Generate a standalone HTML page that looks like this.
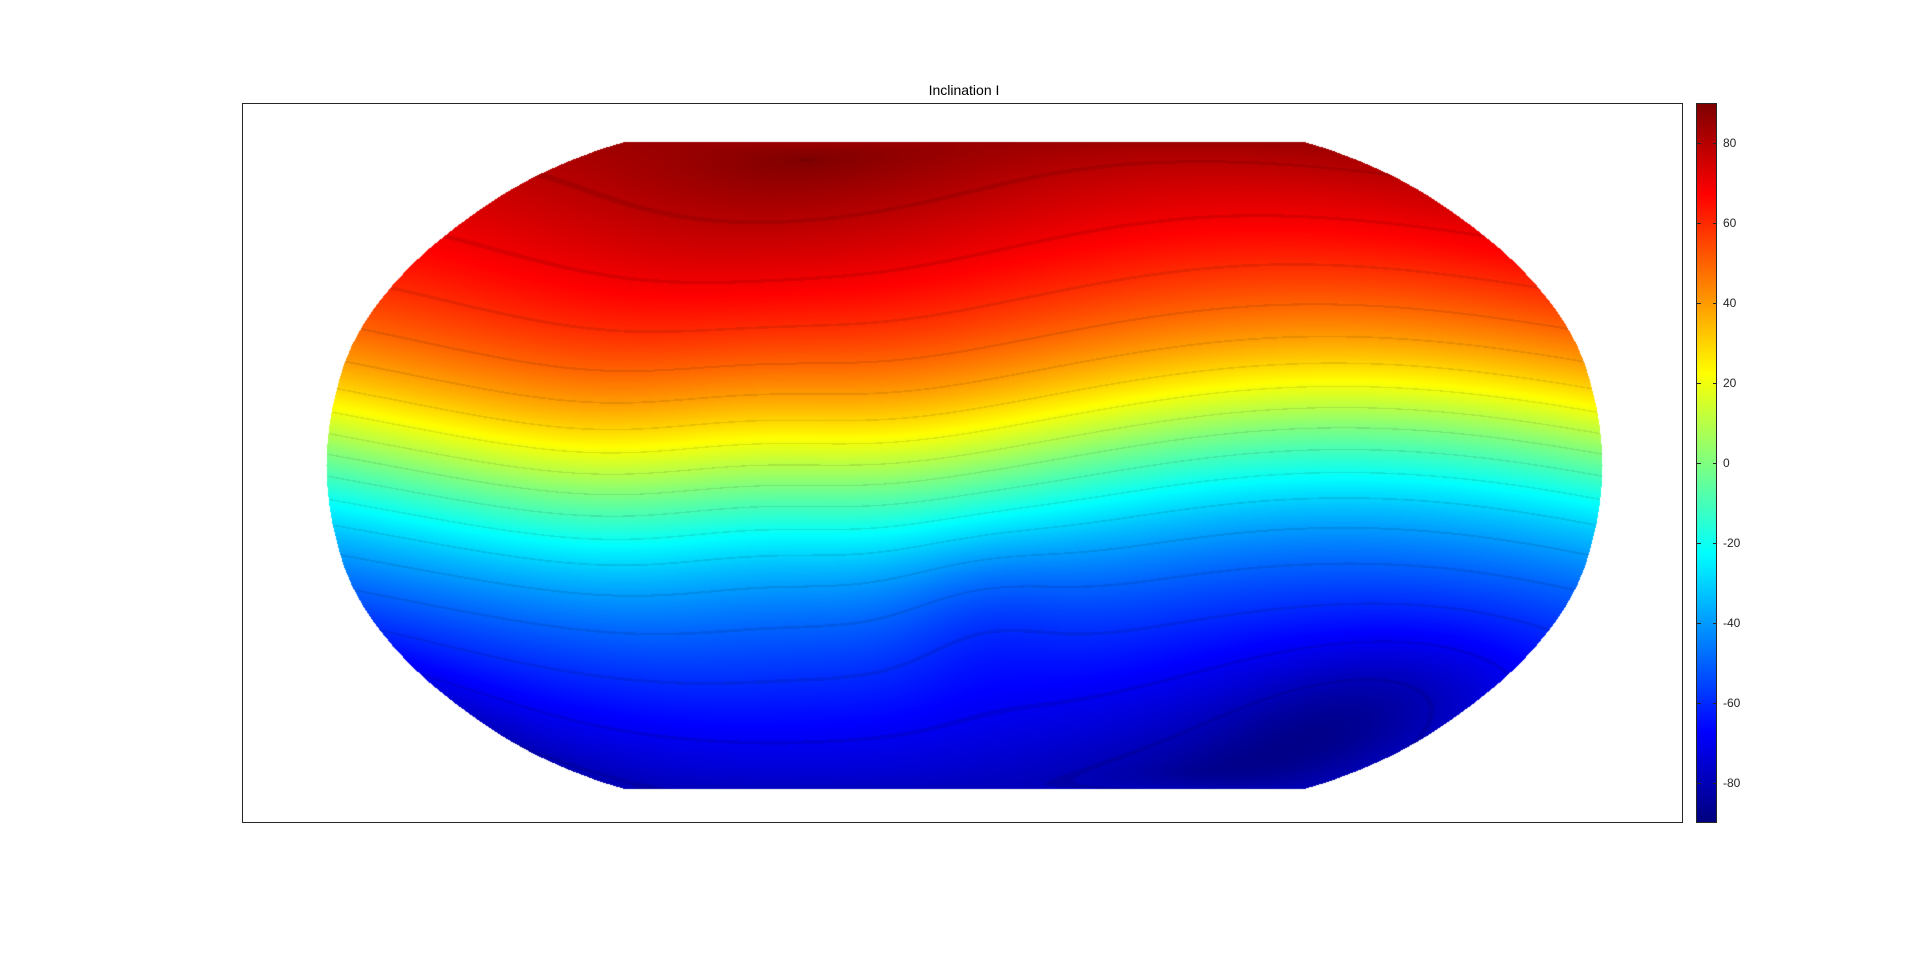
<!DOCTYPE html>
<html><head><meta charset="utf-8">
<style>
html,body{margin:0;padding:0;background:#fff;width:1920px;height:962px;overflow:hidden;font-family:"Liberation Sans",sans-serif;}
#axes{position:absolute;left:242px;top:103px;width:1441px;height:720px;border:1px solid #262626;box-sizing:border-box;}
#title{position:absolute;left:864px;width:200px;text-align:center;top:82px;font-size:14px;color:#000;}
#map{position:absolute;left:0;top:0;}
#cbar{position:absolute;left:1696px;top:103px;width:21px;height:720px;border:1px solid #262626;box-sizing:border-box;}
.tl{position:absolute;left:1723px;font-size:12px;color:#262626;}
.tk{position:absolute;height:1px;width:4px;background:#262626;}
</style></head><body>
<div id="title">Inclination I</div>
<div id="axes"></div>
<canvas id="map" width="1920" height="962"></canvas>
<canvas id="cbar" width="21" height="720"></canvas>
<div id="ticks"></div>
<script>
const cbTicks=[80,60,40,20,0,-20,-40,-60,-80];
const cbMin=-90, cbMax=90;
const dipolePoleLat=80.6, dipolePoleLon=-72.6;
const anomalyLat=-35, anomalyLon=5, anomalyAmp=-6;
const southPoleLat=-62, southPoleLon=140, southAmp=-12;

function jet(v){
  let r=Math.min(Math.max(1.5-Math.abs(4*v-3),0),1);
  let g=Math.min(Math.max(1.5-Math.abs(4*v-2),0),1);
  let b=Math.min(Math.max(1.5-Math.abs(4*v-1),0),1);
  return [r*255,g*255,b*255];
}
const cbTop=103,cbBot=823;
function yScale(v){return cbTop+(cbMax-v)/(cbMax-cbMin)*(cbBot-cbTop);}

const cb=document.getElementById('cbar').getContext('2d');
const im=cb.createImageData(21,720);
for(let y=0;y<720;y++){const v=1-y/719;const c=jet(v);
 for(let x=0;x<21;x++){const i=(y*21+x)*4;im.data[i]=c[0];im.data[i+1]=c[1];im.data[i+2]=c[2];im.data[i+3]=255;}}
cb.putImageData(im,0,0);
const tdiv=document.getElementById('ticks');
cbTicks.forEach(t=>{
 const y=yScale(t);
 const l=document.createElement('div');l.className='tl';l.textContent=t;
 
 
 l.style.top=(y-7)+'px';tdiv.appendChild(l);
 const k=document.createElement('div');k.className='tk';k.style.left='1713px';k.style.top=Math.round(y)+'px';
 
 
 tdiv.appendChild(k);
 const k2=document.createElement('div');k2.className='tk';k2.style.left='1697px';k2.style.top=Math.round(y)+'px';
 
 
 tdiv.appendChild(k2);
});

const RX=[1,0.9986,0.9954,0.99,0.9822,0.973,0.96,0.9427,0.9216,0.8962,0.8679,0.835,0.7986,0.7597,0.7186,0.6732,0.6213,0.5722,0.5322];
const RY=[0,0.062,0.124,0.186,0.248,0.31,0.372,0.434,0.4958,0.5571,0.6176,0.6769,0.7346,0.7903,0.8435,0.8936,0.9394,0.9761,1];
const cx=964,cy=465,R=239.3;
const D=Math.PI/180;
function field(lat,lon){
 const a=lat*D,b=lon*D,pa=dipolePoleLat*D,pb=dipolePoleLon*D;
 let s=Math.sin(a)*Math.sin(pa)+Math.cos(a)*Math.cos(pa)*Math.cos(b-pb);
 s=Math.max(-1,Math.min(1,s));
 const ml=Math.asin(s);
 let I=Math.atan(2*Math.tan(ml))/D;
 if(I<0) I=I*0.93;
 function g(la,lo,amp,w){let dl=lon-lo;dl=((dl+540)%360)-180;return amp*Math.exp(-((lat-la)**2+(dl*Math.cos(la*D))**2)/(w*w));}
 I+=g(anomalyLat,anomalyLon,anomalyAmp,22)+g(southPoleLat,southPoleLon,southAmp,22)+g(-5,-60,-8,35);
 return Math.max(-90,Math.min(90,I));
}
const ctx=document.getElementById('map').getContext('2d');
const x0=300,x1=1630,y0=135,y1=795;
const W=x1-x0,H=y1-y0;
const img=ctx.createImageData(W,H);
for(let py=y0;py<y1;py++){
 const Y=(cy-py)/(1.3523*R);
 const aY=Math.abs(Y); if(aY>1)continue;
 let k=0;while(k<17&&RY[k+1]<aY)k++;
 const f=(aY-RY[k])/(RY[k+1]-RY[k]);
 const lat=Math.sign(Y)*(k+f)*5;
 const X=RX[k]+f*(RX[k+1]-RX[k]);
 for(let px=x0;px<x1;px++){
  const lon=(px-cx)/(0.8487*R*X)/D;
  if(Math.abs(lon)>180)continue;
  const I=field(lat,lon);
  let c=jet((I-cbMin)/(cbMax-cbMin));
  const m=((I%10)+10)%10; if(m<0.3||m>9.7){c=c.map(v=>v*0.9);}
  const i=((py-y0)*W+(px-x0))*4;
  img.data[i]=c[0];img.data[i+1]=c[1];img.data[i+2]=c[2];img.data[i+3]=255;
 }
}
ctx.putImageData(img,x0,y0);
</script>
</body></html>
